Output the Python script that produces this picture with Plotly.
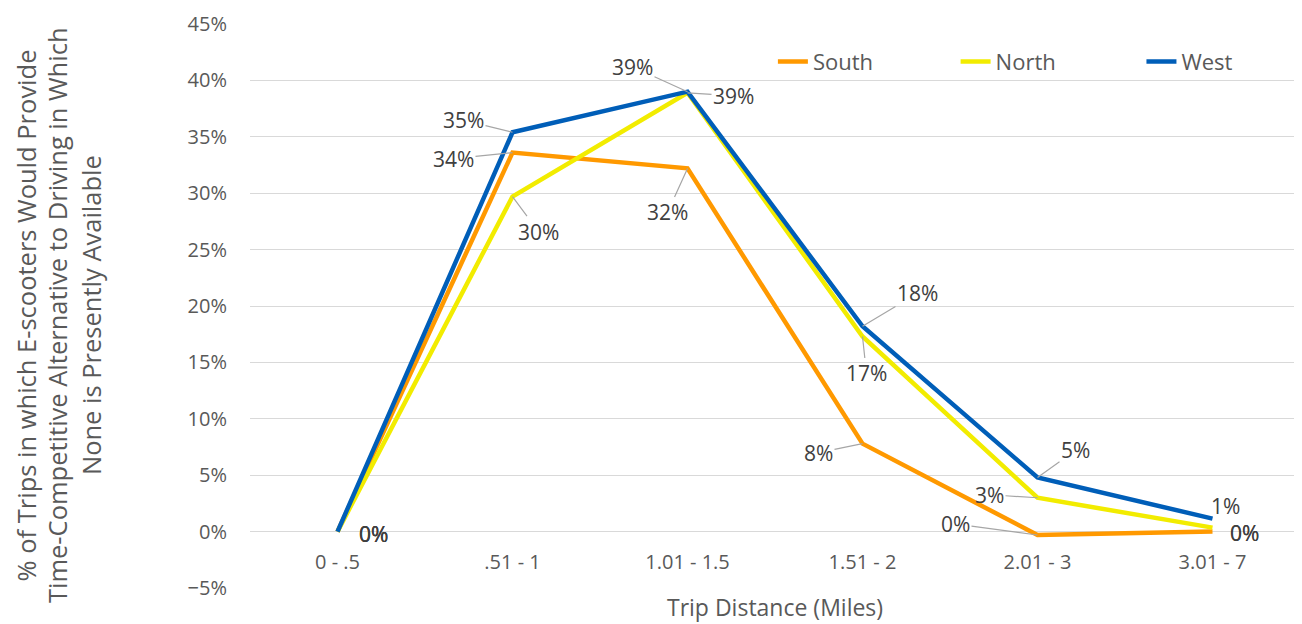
import plotly.graph_objects as go

categories = ["0 - .5", ".51 - 1", "1.01 - 1.5", "1.51 - 2", "2.01 - 3", "3.01 - 7"]
south = [0.0, 0.336, 0.322, 0.078, -0.003, 0.0]
north = [0.0, 0.297, 0.389, 0.173, 0.030, 0.0035]
west = [0.0, 0.354, 0.390, 0.182, 0.048, 0.0115]

series = [("South", south, "#FF9900"), ("North", north, "#F2EC00"), ("West", west, "#005EB8")]

y_title_lines = ["% of Trips in which E-scooters Would Provide",
                 "Time-Competitive Alternative to Driving in Which",
                 "None is Presently Available"]
x_title = "Trip Distance (Miles)"

# label offsets in pixels (text centre relative to point, +y = down); flag -> leader line
label_offsets = {
    "South": [(36, 2, False), (-59, 6, True), (-20, 44, True), (-44, 9, True), (-82, -11, True), (32, 1, False)],
    "North": [(36, 2, False), (26, 35, True), (46, 3, True), (4, 37, True), (-48, -3, True), (32, 5, False)],
    "West": [(36, 2, False), (-49, -12, True), (-55, -25, True), (55, -33, True), (38, -27, True), (13, -13, False)],
}
legend_ids = ["legend", "legend2", "legend3"]
legend_x = [0.498, 0.672, 0.849]
y_title_x = [-0.2129, -0.1838, -0.1514]

FONT = "'Open Sans', sans-serif"
TXT = "#404040"
AX = "#595959"

fig = go.Figure()
for (name, vals, col), lid in zip(series, legend_ids):
    fig.add_trace(go.Scatter(x=categories, y=vals, mode="lines", name=name, legend=lid,
                             line=dict(color=col, width=4.5)))

annotations = []
for name, vals, col in series:
    for i, (c, v) in enumerate(zip(categories, vals)):
        dx, dy, lead = label_offsets[name][i]
        txt = f"{round(v * 100):d}%"
        if lead:
            annotations.append(dict(x=c, y=v, xref="x", yref="y", text=txt, showarrow=True,
                                    ax=dx, ay=dy, arrowhead=0, arrowwidth=1.2,
                                    arrowcolor="#A6A6A6", standoff=0,
                                    font=dict(size=21, color=TXT, family=FONT)))
        else:
            annotations.append(dict(x=c, y=v, xref="x", yref="y", text=txt, showarrow=False,
                                    xshift=dx, yshift=-dy,
                                    font=dict(size=21, color=TXT, family=FONT)))

annotations.append(dict(x=0.5, y=-0.034, xref="paper", yref="paper", text=x_title,
                        showarrow=False, xanchor="center", yanchor="middle",
                        font=dict(size=23, color=AX, family=FONT)))
for line, lx in zip(y_title_lines, y_title_x):
    annotations.append(dict(x=lx, y=0.484, xref="paper", yref="paper", text=line,
                            showarrow=False, textangle=-90, xanchor="center", yanchor="middle",
                            font=dict(size=25.5, color=AX, family=FONT)))

legend_style = dict(orientation="h", y=0.933, xanchor="left", yanchor="middle",
                    font=dict(size=22, color=AX, family=FONT), bgcolor="rgba(0,0,0,0)")

# page body has an 8px margin, so the figure is 8px smaller and shifted
fig.update_layout(
    width=1294, height=616,
    margin=dict(l=242, r=2, t=16, b=36),
    paper_bgcolor="white", plot_bgcolor="white",
    font=dict(family=FONT, color=AX),
    showlegend=True,
    legend=dict(x=legend_x[0], **legend_style),
    legend2=dict(x=legend_x[1], **legend_style),
    legend3=dict(x=legend_x[2], **legend_style),
    annotations=annotations,
)
fig.update_xaxes(type="category", range=[-0.5, 5.5], showgrid=False, showline=False, zeroline=False,
                 anchor="free", position=0.1, ticks="", ticklabelstandoff=16, automargin=False,
                 tickfont=dict(size=20, color=AX, family=FONT))
fig.update_yaxes(range=[-0.05, 0.45], dtick=0.05, tick0=0, tickformat=".0%",
                 showgrid=True, gridcolor="#D9D9D9", gridwidth=1.3, automargin=False,
                 zeroline=False, showline=False, ticks="",
                 tickfont=dict(size=20, color=AX, family=FONT), ticklabelstandoff=22)

fig.write_html("out.html")
